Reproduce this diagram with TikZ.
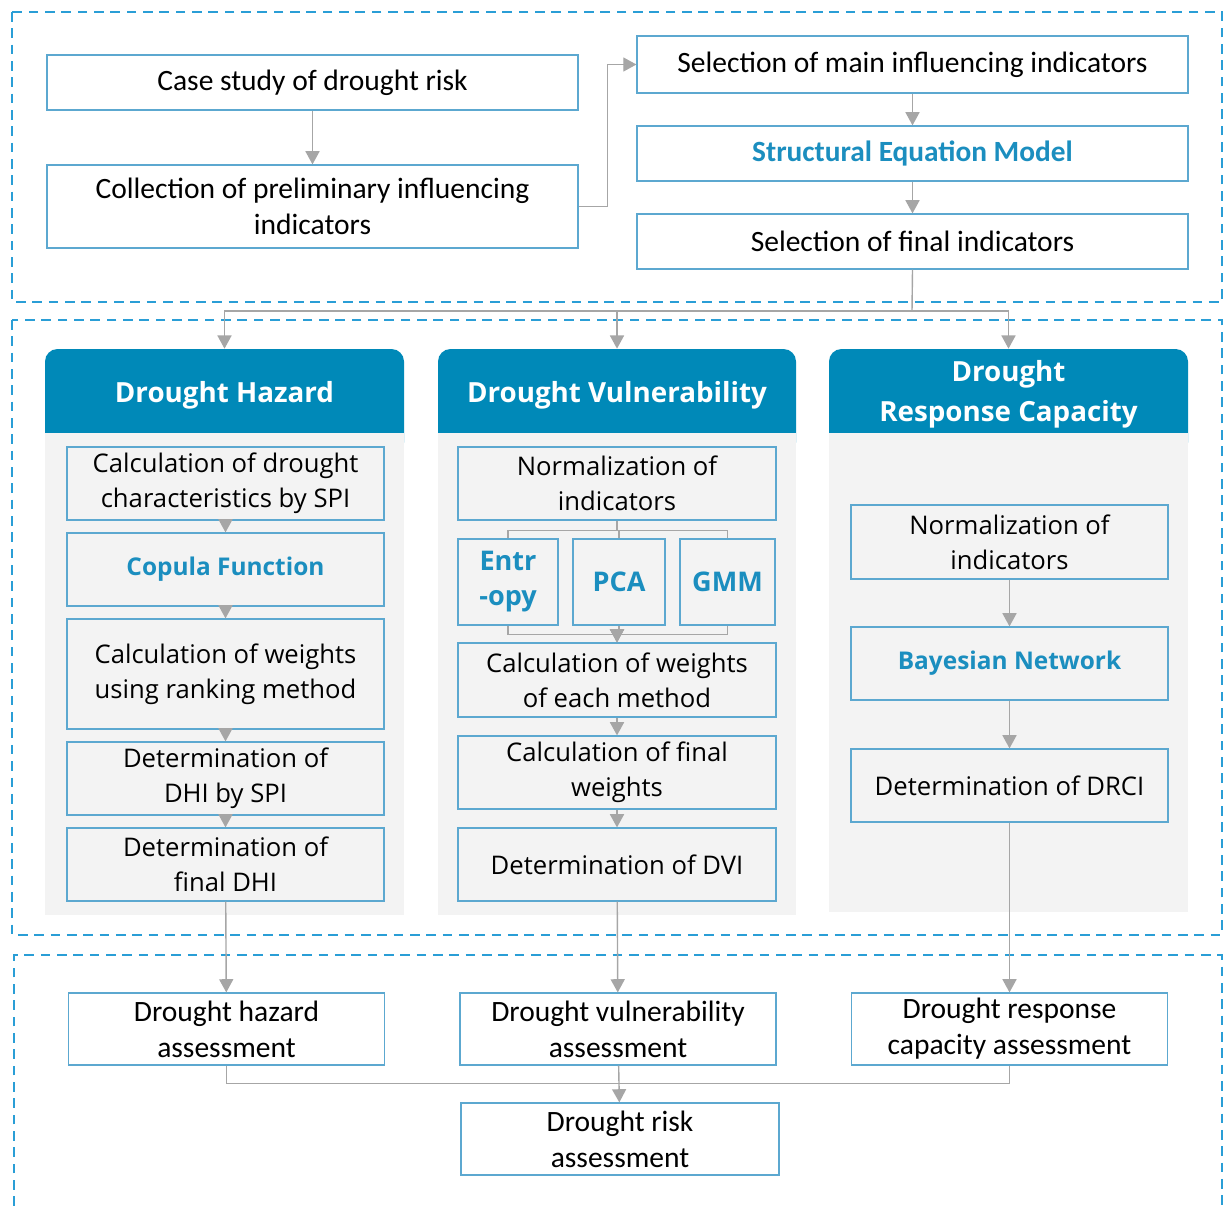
\documentclass[tikz,border=0pt]{standalone}
\usepackage{xcolor}
\usepackage{fontspec}
\setmainfont{Carlito}
\newfontfamily\panelfont{Open Sans}
\usetikzlibrary{arrows.meta}

\definecolor{frameblue}{HTML}{2A9ED6}
\definecolor{hdrblue}{HTML}{0089B8}
\definecolor{txtblue}{HTML}{1B8EBF}
\definecolor{boxblue}{HTML}{5CA8D0}
\definecolor{panelgray}{HTML}{F3F3F3}
\definecolor{arrowgray}{HTML}{A6A6A6}

\tikzset{
  frame/.style={draw=frameblue, line width=1.1pt, dash pattern=on 5.5pt off 3.8pt},
  topbox/.style={draw=boxblue, line width=0.7pt, fill=white, inner sep=1pt, align=center,
    font=\fontsize{16.8}{20.5}\selectfont},
  inbox/.style={draw=boxblue, line width=0.7pt, fill=panelgray, inner sep=1pt, align=center,
    font=\panelfont\fontsize{14.6}{20}\selectfont},
  hdr/.style={inner sep=0pt, align=center, text=white,
    font=\panelfont\bfseries\fontsize{15.8}{22.8}\selectfont},
  bluetxt/.style={text=txtblue, font=\panelfont\bfseries\fontsize{13.9}{20}\selectfont},
  line/.style={draw=arrowgray, line width=0.8pt},
  arr/.style={line, -{Triangle[length=7.5pt,width=8pt]}}
}

\begin{document}
\begin{tikzpicture}[x=0.02cm, y=-0.02cm]
\useasboundingbox (0,0) rectangle (1227,1206);

% dashed frames
\draw[frame] (12,12) rectangle (1222,302);
\draw[frame] (12,320) rectangle (1222,935);
\draw[frame] (14,1206) -- (14,955) -- (1222,955) -- (1222,1206);

% indicator selection
\node[topbox, minimum width=10.62cm, minimum height=1.1cm] (case) at (312.5,82.5) {Case study of drought risk};
\node[topbox, minimum width=10.62cm, minimum height=1.66cm] (collect) at (312.5,206.5) {Collection of preliminary influencing\\indicators};
\node[topbox, minimum width=11.02cm, minimum height=1.14cm] (selmain) at (912.5,64.5) {Selection of main influencing indicators};
\node[topbox, minimum width=11.02cm, minimum height=1.1cm, text=txtblue, font=\bfseries\fontsize{16.7}{20.5}\selectfont] (sem) at (912.5,153.5) {Structural Equation Model};
\node[topbox, minimum width=11.02cm, minimum height=1.1cm] (selfinal) at (912.5,241.5) {Selection of final indicators};

\draw[arr] (case) -- (collect);
\draw[arr] (collect.east) -- ++(29,0) |- (selmain.west);
\draw[arr] (selmain) -- (sem);
\draw[arr] (sem) -- (selfinal);

% panels
\fill[hdrblue, rounded corners=0.25cm] (45,349) rectangle (404,455);
\fill[hdrblue, rounded corners=0.25cm] (438,349) rectangle (796,455);
\fill[hdrblue, rounded corners=0.25cm] (829,349) rectangle (1188,455);
\fill[panelgray] (45,433) rectangle (404,915);
\fill[panelgray] (438,433) rectangle (796,915);
\fill[panelgray] (829,433) rectangle (1188,912);

\node[hdr, minimum width=7.18cm, minimum height=1.84cm] (hdrH) at (224.5,395) {Drought Hazard};
\node[hdr, minimum width=7.16cm, minimum height=1.84cm] (hdrV) at (617,395) {Drought Vulnerability};
\node[hdr, minimum width=7.18cm, minimum height=1.80cm] (hdrR) at (1008.5,394) {Drought\\Response Capacity};

\coordinate (spine) at (912,311);
\draw[line] (selfinal.south) -- (spine);
\draw[arr] (spine) -| (hdrH.north);
\draw[arr] (spine) -| (hdrV.north);
\draw[arr] (spine) -| (hdrR.north);

% hazard
\node[inbox, minimum width=6.34cm, minimum height=1.46cm] (h1) at (225.5,483.5) {Calculation of drought\\characteristics by SPI};
\node[inbox, bluetxt, minimum width=6.34cm, minimum height=1.46cm] (h2) at (225.5,569.5) {Copula Function};
\node[inbox, minimum width=6.34cm, minimum height=2.2cm] (h3) at (225.5,674) {Calculation of weights\\using ranking method};
\node[inbox, minimum width=6.34cm, minimum height=1.46cm] (h4) at (225.5,778.5) {Determination of\\DHI by SPI};
\node[inbox, minimum width=6.34cm, minimum height=1.46cm] (h5) at (225.5,864.5) {Determination of\\final DHI};
\foreach \a/\b in {h1/h2,h2/h3,h3/h4,h4/h5}
  \draw[arr] (\a) -- (\b);

% vulnerability
\node[inbox, minimum width=6.36cm, minimum height=1.46cm] (v1) at (617,483.5) {Normalization of\\indicators};
\node[inbox, bluetxt, minimum width=2.0cm, minimum height=1.72cm, font=\panelfont\bfseries\fontsize{15.4}{20}\selectfont] (ent) at (508,582) {Entr\\-opy};
\node[inbox, bluetxt, minimum width=1.84cm, minimum height=1.72cm, font=\panelfont\bfseries\fontsize{15.4}{20}\selectfont] (pca) at (619,582) {PCA};
\node[inbox, bluetxt, minimum width=1.9cm, minimum height=1.72cm, font=\panelfont\bfseries\fontsize{15.4}{20}\selectfont] (gmm) at (727.5,582) {GMM};
\node[inbox, minimum width=6.36cm, minimum height=1.48cm] (v2) at (617,680) {Calculation of weights\\of each method};
\node[inbox, minimum width=6.36cm, minimum height=1.46cm] (v3) at (617,772.5) {Calculation of final\\weights};
\node[inbox, minimum width=6.36cm, minimum height=1.46cm] (v4) at (617,864.5) {Determination of DVI};
\foreach \m in {ent,pca,gmm} {
  \draw[line] (v1.south) -- ++(0,10) -| (\m.north);
  \draw[arr] (\m.south) -- ++(0,9) -| (v2.north);
}
\draw[arr] (v2) -- (v3);
\draw[arr] (v3) -- (v4);

% response capacity
\node[inbox, minimum width=6.34cm, minimum height=1.48cm] (r1) at (1009.5,542) {Normalization of\\indicators};
\node[inbox, bluetxt, minimum width=6.34cm, minimum height=1.46cm] (r2) at (1009.5,663.5) {Bayesian Network};
\node[inbox, minimum width=6.34cm, minimum height=1.46cm] (r3) at (1009.5,785.5) {Determination of DRCI};
\draw[arr] (r1) -- (r2);
\draw[arr] (r2) -- (r3);

% assessment
\node[topbox, minimum width=6.32cm, minimum height=1.44cm] (o1) at (226.5,1029) {Drought hazard\\assessment};
\node[topbox, minimum width=6.32cm, minimum height=1.44cm] (o2) at (618,1029) {Drought vulnerability\\assessment};
\node[topbox, minimum width=6.32cm, minimum height=1.44cm] (o3) at (1009.5,1029) {Drought response\\capacity assessment};
\node[topbox, minimum width=6.36cm, minimum height=1.44cm] (risk) at (620,1139) {Drought risk\\assessment};

\draw[arr] (h5) -- (o1);
\draw[arr] (v4) -- (o2);
\draw[arr] (r3) -- (o3);
\draw[line] (o1.south) -- ++(0,18) -| (o3.south);
\draw[arr] (o2) -- (risk);
\end{tikzpicture}
\end{document}
